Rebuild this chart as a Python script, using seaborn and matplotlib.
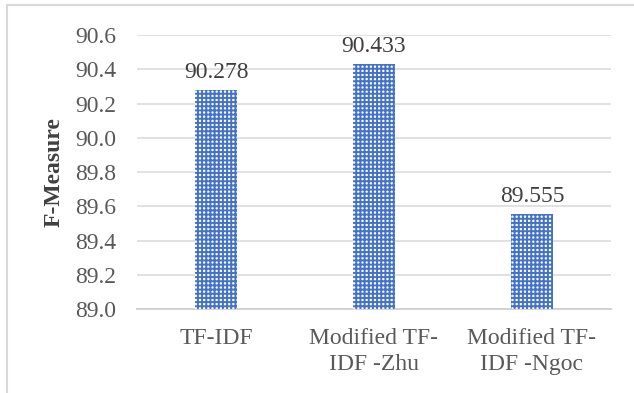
import matplotlib.pyplot as plt
import matplotlib.lines as mlines
import pandas as pd
import seaborn as sns

methods = ["TF-IDF", "Modified TF-\nIDF -Zhu", "Modified TF-\nIDF -Ngoc"]
f_measure = [90.278, 90.433, 89.555]
yticks = [89.0, 89.2, 89.4, 89.6, 89.8, 90.0, 90.2, 90.4, 90.6]

sns.set_style("white")
plt.rcParams["font.family"] = ["Liberation Serif", "DejaVu Serif"]
plt.rcParams["hatch.linewidth"] = 1.4

df = pd.DataFrame({"method": methods, "f": f_measure})

fig = plt.figure(figsize=(6.34, 3.93), dpi=100)
ax = fig.add_axes([0.2161, 0.2137, 0.7476, 0.6972])

sns.barplot(data=df, x="method", y="f", color="#4472C4", width=0.27,
            saturation=1, ax=ax, zorder=3)
# Excel-style dotted fill: blue grid over white -> small white squares
for p in ax.patches:
    p.set_facecolor("white")
    p.set_edgecolor("#4472C4")
    p.set_linewidth(0)
    p.set_hatch("++++")

ax.set_ylim(89.0, 90.6)
ax.set_yticks(yticks)
ax.set_yticklabels([f"{t:.1f}" for t in yticks])
ax.yaxis.grid(True, color="#D9D9D9", linewidth=1.1, zorder=0)
ax.set_axisbelow(True)
for s in ["left", "right", "top"]:
    ax.spines[s].set_visible(False)
ax.spines["bottom"].set_color("#D0D0D0")
ax.spines["bottom"].set_linewidth(1.3)
ax.tick_params(axis="both", length=0, labelsize=17, colors="#595959")
ax.tick_params(axis="y", pad=15)
ax.tick_params(axis="x", pad=14)
for lbl in ax.get_xticklabels():
    lbl.set_linespacing(1.3)

ax.set_xlabel("")
ax.set_ylabel("")
fig.text(54 / 634, 1 - 172 / 393, "F-Measure", rotation=90, ha="center",
         va="center", fontsize=17, fontweight="bold", color="#404040")

for i, v in enumerate(f_measure):
    ax.annotate(f"{v:.3f}", (i, v), xytext=(0, 5), textcoords="offset points",
                ha="center", va="bottom", fontsize=17, color="#404040")

# chart border (partially visible, as in the original crop)
fig.add_artist(mlines.Line2D([7 / 634, 7 / 634], [0, 1 - 5 / 393],
                             transform=fig.transFigure, color="#D9D9D9", lw=1.5))
fig.add_artist(mlines.Line2D([7 / 634, 1], [1 - 5 / 393, 1 - 5 / 393],
                             transform=fig.transFigure, color="#D9D9D9", lw=1.5))

fig.savefig("out.png", dpi=100)
